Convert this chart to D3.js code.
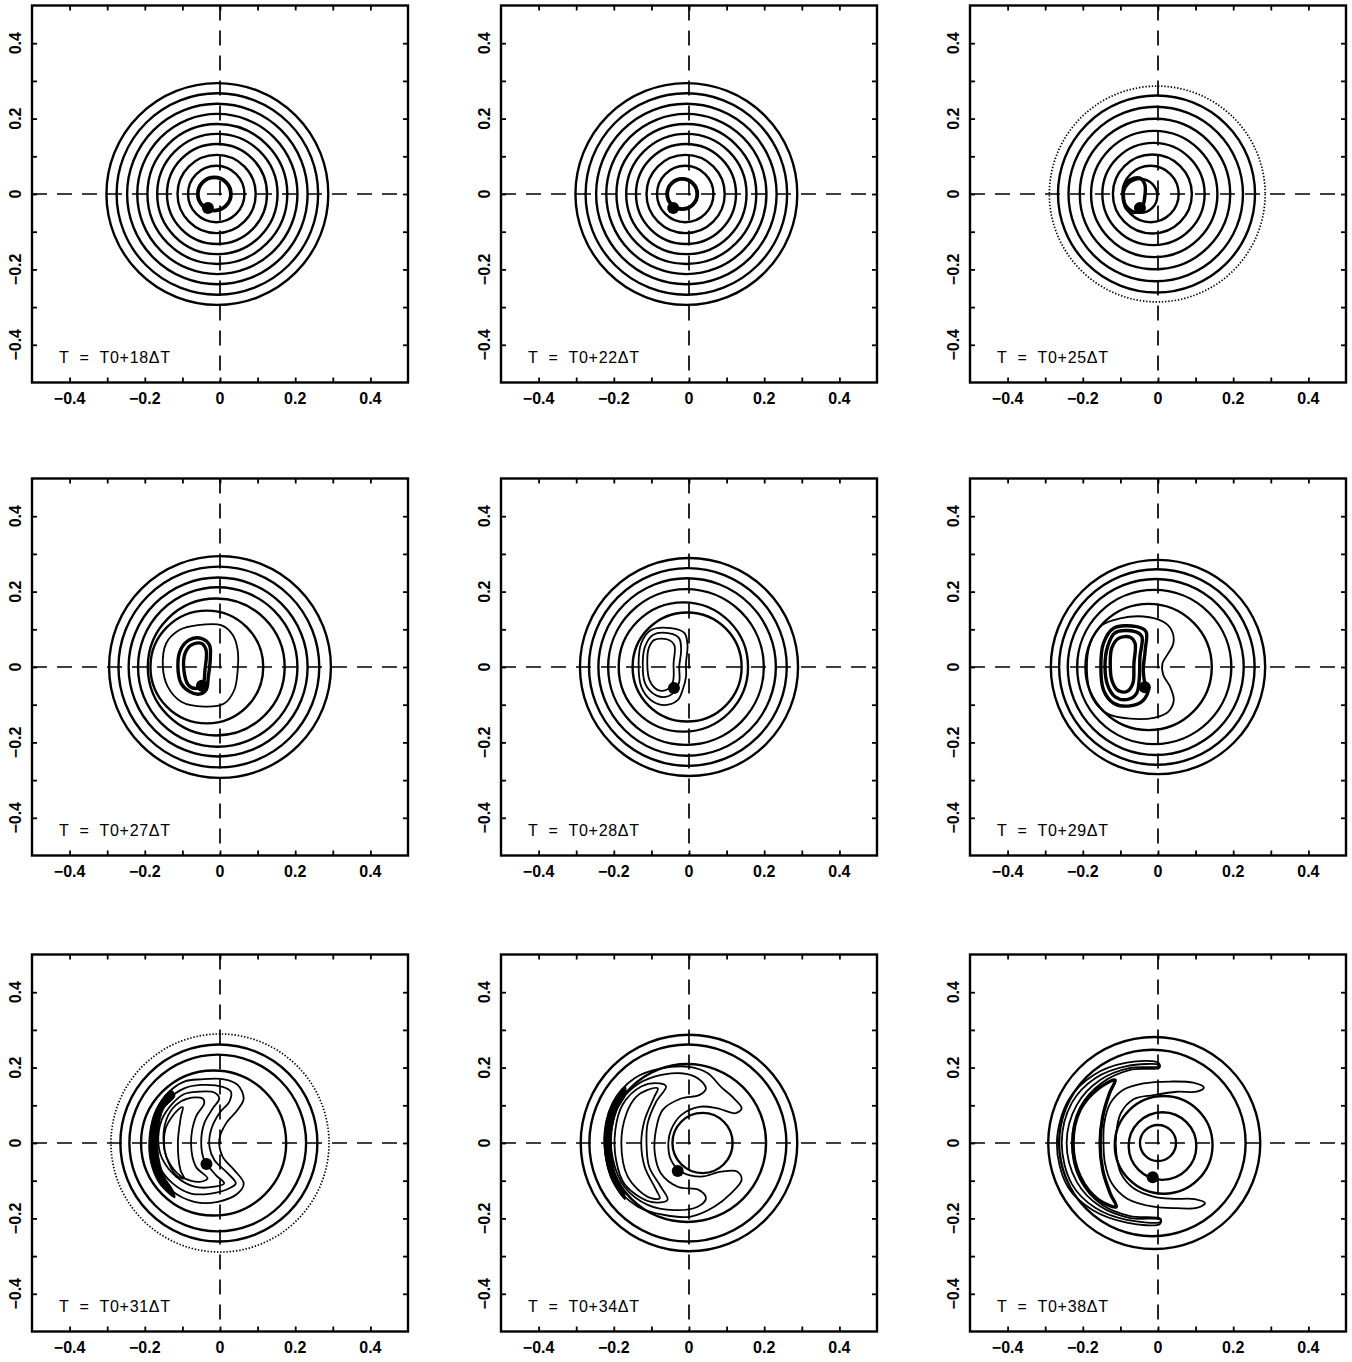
<!DOCTYPE html>
<html>
<head>
<meta charset="utf-8">
<script src="https://cdn.jsdelivr.net/npm/d3@7"></script>
<style>
  body { margin: 0; background: #fff; }
  svg { display: block; font-family: "Liberation Sans", Arial, sans-serif; }
  .tick-label { font-size: 16px; font-weight: bold; }
  .time-label { font-size: 16px; }
</style>
</head>
<body>
<div id="chart"></div>
<script>
// ---- data (all values in plot units) ----
const timeSteps = [18, 22, 25, 27, 28, 29, 31, 34, 38];
const axisTicks = [-0.4, -0.3, -0.2, -0.1, 0, 0.1, 0.2, 0.3, 0.4];
const labelTicks = [-0.4, -0.2, 0, 0.2, 0.4];

// rings: [cx, cy, r]
const rings18 = [[-0.007,0,0.295],[-0.007,0,0.268],[-0.007,0,0.240],[-0.007,0,0.213],[-0.007,0,0.186],[-0.007,0,0.160],[-0.008,0,0.133],[-0.009,0,0.104],[-0.010,0,0.075]];
const core18 = [[-0.015,0,0.044]];
const dot18 = [-0.032,-0.037];

const rings22 = [[-0.007,0,0.295],[-0.007,0,0.268],[-0.007,0,0.240],[-0.007,0,0.213],[-0.007,0,0.186],[-0.007,0,0.160],[-0.008,0,0.133],[-0.009,0,0.104],[-0.010,0,0.075]];
const core22 = [[-0.018,0,0.040]];
const dot22 = [-0.042,-0.037];

const dotted25 = [[-0.002,0,0.287]];
const rings25 = [[-0.004,0,0.262],[-0.006,0,0.232],[-0.008,0,0.200],[-0.010,0,0.168],[-0.012,0,0.136],[-0.015,0,0.105],[-0.020,0,0.075],[-0.047,-0.005,0.045]];
const thick25 = [[[-0.074,0.038],[-0.048,0.042],[-0.035,0.025],[-0.035,-0.006],[-0.043,-0.037],[-0.065,-0.049],[-0.085,-0.037],[-0.092,-0.002],[-0.088,0.025]]];
const dot25 = [-0.048,-0.037];

const rings27 = [[0,0,0.295],[-0.003,0,0.267],[-0.005,0,0.238],[-0.006,0,0.212],[-0.010,0,0.182],[-0.035,0,0.150]];
const lines27 = [[[-0.059,0.111],[0.003,0.111],[0.034,0.085],[0.047,0.045],[0.047,-0.008],[0.038,-0.061],[0.011,-0.097],[-0.042,-0.105],[-0.103,-0.092],[-0.139,-0.052],[-0.152,0.001],[-0.143,0.063],[-0.108,0.098]]];
const thick27 = [
  [[-0.081,0.072],[-0.050,0.076],[-0.028,0.058],[-0.026,0.019],[-0.031,-0.026],[-0.037,-0.061],[-0.055,-0.072],[-0.081,-0.065],[-0.103,-0.044],[-0.112,0.001],[-0.105,0.045]],
  [[-0.077,0.058],[-0.050,0.063],[-0.037,0.045],[-0.040,-0.008],[-0.046,-0.048],[-0.064,-0.057],[-0.084,-0.048],[-0.096,-0.008],[-0.093,0.036]]
];
const dot27 = [-0.048,-0.050];

const rings28 = [[0,0,0.290],[-0.003,0,0.263],[-0.005,0,0.236],[-0.008,0,0.207],[-0.015,0,0.172],[-0.005,0,0.145]];
const lines28 = [
  [[-0.101,0.098],[-0.048,0.103],[-0.012,0.090],[-0.004,0.058],[-0.008,0.010],[-0.008,-0.026],[-0.017,-0.061],[-0.030,-0.088],[-0.065,-0.101],[-0.101,-0.088],[-0.127,-0.052],[-0.134,0.010],[-0.127,0.063]],
  [[-0.096,0.085],[-0.052,0.089],[-0.026,0.076],[-0.021,0.045],[-0.026,0.001],[-0.026,-0.039],[-0.043,-0.070],[-0.070,-0.080],[-0.096,-0.070],[-0.117,-0.043],[-0.123,0.010],[-0.117,0.054]],
  [[-0.092,0.072],[-0.057,0.073],[-0.039,0.058],[-0.041,0.010],[-0.043,-0.039],[-0.061,-0.061],[-0.085,-0.060],[-0.105,-0.035],[-0.111,0.010],[-0.107,0.050]]
];
const dot28 = [-0.040,-0.056];

const rings29 = [[0,0,0.285],[-0.003,0,0.260],[-0.006,0,0.234],[-0.010,0,0.205],[-0.025,0,0.168]];
const lines29 = [[[-0.101,0.129],[-0.039,0.134],[0.014,0.120],[0.036,0.098],[0.041,0.063],[0.027,0.036],[0.012,0.010],[0.014,-0.021],[0.032,-0.052],[0.042,-0.088],[0.027,-0.119],[-0.008,-0.134],[-0.074,-0.137],[-0.136,-0.123],[-0.176,-0.079],[-0.189,-0.008],[-0.180,0.063],[-0.149,0.111]]];
const thick29 = [
  [[-0.118,0.103],[-0.057,0.107],[-0.032,0.094],[-0.034,0.045],[-0.039,-0.008],[-0.034,-0.044],[-0.025,-0.057],[-0.039,-0.088],[-0.074,-0.103],[-0.118,-0.096],[-0.145,-0.061],[-0.152,0.001],[-0.145,0.063]],
  [[-0.114,0.091],[-0.061,0.094],[-0.043,0.081],[-0.048,0.027],[-0.050,-0.034],[-0.057,-0.070],[-0.080,-0.086],[-0.114,-0.079],[-0.134,-0.048],[-0.141,0.001],[-0.134,0.054]],
  [[-0.105,0.076],[-0.074,0.079],[-0.061,0.063],[-0.064,0.010],[-0.067,-0.044],[-0.083,-0.065],[-0.108,-0.061],[-0.123,-0.034],[-0.127,0.010],[-0.123,0.050]]
];
const dot29 = [-0.035,-0.054];

const dotted31 = [[0,0,0.290]];
const rings31 = [[-0.003,0,0.262],[-0.006,0,0.235],[-0.017,0,0.193]];
const lines31 = [
  [[-0.050,0.169],[0.011,0.169],[0.047,0.154],[0.063,0.118],[0.047,0.088],[0.016,0.052],[-0.002,0.008],[0.007,-0.036],[0.038,-0.072],[0.063,-0.107],[0.047,-0.134],[-0.006,-0.156],[-0.068,-0.156],[-0.130,-0.125],[-0.170,-0.072],[-0.185,0],[-0.174,0.074],[-0.139,0.132],[-0.095,0.163]],
  [[-0.050,0.154],[0.007,0.149],[0.029,0.136],[0.025,0.110],[-0.002,0.079],[-0.024,0.034],[-0.028,-0.010],[-0.015,-0.045],[0.020,-0.080],[0.042,-0.107],[0.025,-0.120],[-0.024,-0.134],[-0.077,-0.134],[-0.126,-0.107],[-0.161,-0.063],[-0.174,0],[-0.165,0.065],[-0.134,0.118],[-0.095,0.145]],
  [[-0.059,0.136],[-0.015,0.134],[-0.002,0.118],[-0.019,0.092],[-0.042,0.052],[-0.050,0],[-0.042,-0.045],[-0.011,-0.085],[0.011,-0.107],[-0.015,-0.116],[-0.068,-0.116],[-0.117,-0.089],[-0.152,-0.045],[-0.164,0],[-0.155,0.061],[-0.126,0.105],[-0.095,0.130]],
  [[-0.086,0.118],[-0.046,0.118],[-0.042,0.105],[-0.064,0.070],[-0.077,0],[-0.064,-0.063],[-0.033,-0.094],[-0.055,-0.103],[-0.103,-0.089],[-0.139,-0.045],[-0.150,0],[-0.143,0.061],[-0.117,0.101]],
  [[-0.112,0.088],[-0.099,0.095],[-0.104,0.070],[-0.112,0],[-0.105,-0.072],[-0.095,-0.094],[-0.117,-0.085],[-0.143,-0.036],[-0.149,0],[-0.143,0.043]]
];
const band31 = [[-0.130,0.140],[-0.170,0.090],[-0.188,0.020],[-0.185,-0.050],[-0.160,-0.110],[-0.120,-0.145],[-0.125,-0.125],[-0.150,-0.085],[-0.165,-0.020],[-0.163,0.040],[-0.150,0.090],[-0.120,0.125]];
const dot31 = [-0.036,-0.056];

const rings34 = [[0,0,0.288],[-0.003,0,0.262],[-0.005,0,0.210],[0.036,0,0.080]];
const lines34 = [
  [[0.001,0.202],[0.050,0.185],[0.085,0.149],[0.120,0.118],[0.140,0.092],[0.124,0.079],[0.076,0.092],[0.027,0.096],[-0.021,0.074],[-0.048,0.034],[-0.055,0],[-0.048,-0.045],[-0.021,-0.076],[0.032,-0.089],[0.085,-0.076],[0.129,-0.076],[0.140,-0.098],[0.111,-0.134],[0.067,-0.169],[0.005,-0.195],[-0.065,-0.191],[-0.136,-0.169],[-0.198,-0.107],[-0.225,0],[-0.204,0.105],[-0.145,0.172],[-0.074,0.198]],
  [[-0.092,0.176],[-0.021,0.185],[0.023,0.172],[0.045,0.145],[0.027,0.127],[-0.021,0.118],[-0.070,0.088],[-0.088,0.034],[-0.091,-0.027],[-0.075,-0.080],[-0.030,-0.116],[0.027,-0.125],[0.045,-0.147],[0.023,-0.169],[-0.039,-0.178],[-0.110,-0.164],[-0.172,-0.116],[-0.202,-0.045],[-0.207,0.034],[-0.185,0.105],[-0.145,0.150]],
  [[-0.110,0.141],[-0.083,0.145],[-0.092,0.123],[-0.118,0.061],[-0.127,0],[-0.118,-0.063],[-0.087,-0.125],[-0.078,-0.147],[-0.110,-0.143],[-0.163,-0.089],[-0.180,0],[-0.166,0.079],[-0.140,0.123]],
  [[-0.127,0.150],[-0.078,0.158],[-0.061,0.150],[-0.087,0.110],[-0.110,0.052],[-0.113,0],[-0.106,-0.063],[-0.075,-0.116],[-0.057,-0.151],[-0.101,-0.156],[-0.170,-0.111],[-0.194,-0.045],[-0.196,0.034],[-0.177,0.101]]
];
const band34 = [[-0.170,0.150],[-0.205,0.100],[-0.225,0.030],[-0.222,-0.040],[-0.205,-0.100],[-0.170,-0.150],[-0.172,-0.130],[-0.195,-0.085],[-0.205,-0.030],[-0.205,0.030],[-0.192,0.085],[-0.168,0.130]];
const dot34 = [-0.030,-0.074];

const rings38 = [[-0.010,0,0.282],[-0.015,0,0.248],[0,0,0.048],[0.012,-0.008,0.090],[0.015,-0.005,0.130]];
const lines38 = [
  [[0.001,0.213],[-0.083,0.213],[-0.172,0.180],[-0.238,0.114],[-0.269,-0.001],[-0.240,-0.116],[-0.172,-0.179],[-0.083,-0.211],[0.005,-0.215],[0.007,-0.201],[-0.074,-0.194],[-0.149,-0.164],[-0.207,-0.098],[-0.229,-0.001],[-0.207,0.095],[-0.149,0.160],[-0.074,0.194],[0.004,0.200]],
  [[0.004,0.207],[-0.083,0.204],[-0.167,0.172],[-0.229,0.107],[-0.256,0],[-0.229,-0.109],[-0.167,-0.172],[-0.083,-0.204],[0.007,-0.209],[0.006,-0.203],[-0.074,-0.199],[-0.154,-0.168],[-0.216,-0.103],[-0.243,0],[-0.216,0.101],[-0.154,0.167],[-0.074,0.199],[0.004,0.203]],
  [[0.122,0.147],[0.094,0.160],[0.032,0.163],[-0.039,0.158],[-0.092,0.141],[-0.127,0.105],[-0.143,0.052],[-0.145,-0.001],[-0.141,-0.054],[-0.123,-0.107],[-0.083,-0.147],[-0.012,-0.169],[0.050,-0.173],[0.103,-0.172],[0.125,-0.160],[0.098,-0.149],[0.041,-0.148],[-0.012,-0.142],[-0.065,-0.120],[-0.099,-0.080],[-0.111,-0.027],[-0.111,0.026],[-0.099,0.079],[-0.065,0.116],[-0.012,0.127],[0.050,0.136],[0.103,0.136]]
];
const thick38 = [[[-0.114,0.167],[-0.158,0.145],[-0.207,0.088],[-0.226,-0.001],[-0.207,-0.089],[-0.158,-0.151],[-0.111,-0.169],[-0.127,-0.134],[-0.147,-0.072],[-0.154,-0.001],[-0.147,0.070],[-0.129,0.132]]];
const dot38 = [-0.014,-0.091];

// table of panels built from the arrays above
const panels = [
  {t: timeSteps[0], rings: rings18, dotted: [], lines: [], thick: [], thickRings: core18, band: null, dot: dot18},
  {t: timeSteps[1], rings: rings22, dotted: [], lines: [], thick: [], thickRings: core22, band: null, dot: dot22},
  {t: timeSteps[2], rings: rings25, dotted: dotted25, lines: [], thick: thick25, thickRings: [], band: null, dot: dot25},
  {t: timeSteps[3], rings: rings27, dotted: [], lines: lines27, thick: thick27, thickRings: [], band: null, dot: dot27},
  {t: timeSteps[4], rings: rings28, dotted: [], lines: lines28, thick: [], thickRings: [], band: null, dot: dot28},
  {t: timeSteps[5], rings: rings29, dotted: [], lines: lines29, thick: thick29, thickRings: [], band: null, dot: dot29},
  {t: timeSteps[6], rings: rings31, dotted: dotted31, lines: lines31, thick: [], thickRings: [], band: band31, dot: dot31},
  {t: timeSteps[7], rings: rings34, dotted: [], lines: lines34, thick: [], thickRings: [], band: band34, dot: dot34},
  {t: timeSteps[8], rings: rings38, dotted: [], lines: lines38, thick: thick38, thickRings: [], band: null, dot: dot38}
];

// ---- layout ----
const W = 1352, H = 1362;
const colLeft = [32, 501, 970];
const rowTop = [5.5, 478.5, 954.5];
const pw = 376, ph = 377;

const svg = d3.select("#chart").append("svg")
    .attr("width", W)
    .attr("height", H);

const x = d3.scaleLinear().domain([-0.5, 0.5]).range([0, pw]);
const y = d3.scaleLinear().domain([-0.5, 0.5]).range([ph, 0]);
const rad = r => x(r) - x(0);
const fmt = d => d === 0 ? "0" : d3.format(".1f")(d);

const closedLine = d3.line()
    .x(d => x(d[0]))
    .y(d => y(d[1]))
    .curve(d3.curveCatmullRomClosed.alpha(0.5));

panels.forEach(function (p, i) {
    let g = svg.append("g")
        .attr("transform", `translate(${colLeft[i % 3]}, ${rowTop[Math.floor(i / 3)]})`);

    // concentric / shifted rings
    g.selectAll(".ring").data(p.rings).enter().append("circle")
        .attr("class", "ring")
        .attr("cx", d => x(d[0])).attr("cy", d => y(d[1])).attr("r", d => rad(d[2]))
        .attr("fill", "none").attr("stroke", "#000").attr("stroke-width", 2.4);

    g.selectAll(".dotted").data(p.dotted).enter().append("circle")
        .attr("class", "dotted")
        .attr("cx", d => x(d[0])).attr("cy", d => y(d[1])).attr("r", d => rad(d[2]))
        .attr("fill", "none").attr("stroke", "#000").attr("stroke-width", 1.7)
        .attr("stroke-dasharray", "1.4,1.8");

    g.selectAll(".core").data(p.thickRings).enter().append("circle")
        .attr("class", "core")
        .attr("cx", d => x(d[0])).attr("cy", d => y(d[1])).attr("r", d => rad(d[2]))
        .attr("fill", "none").attr("stroke", "#000").attr("stroke-width", 3.8);

    // contour lines
    g.selectAll(".contour").data(p.lines).enter().append("path")
        .attr("class", "contour")
        .attr("d", closedLine)
        .attr("fill", "none").attr("stroke", "#000").attr("stroke-width", 1.8);

    g.selectAll(".thick").data(p.thick).enter().append("path")
        .attr("class", "thick")
        .attr("d", closedLine)
        .attr("fill", "none").attr("stroke", "#000").attr("stroke-width", 3.4);

    if (p.band) {
        g.append("path")
            .attr("d", closedLine(p.band))
            .attr("fill", "#000").attr("stroke", "#000").attr("stroke-width", 1);
    }

    // filled marker
    g.append("circle")
        .attr("cx", x(p.dot[0])).attr("cy", y(p.dot[1])).attr("r", 6)
        .attr("fill", "#000");

    // dashed cross hairs
    g.append("line")
        .attr("x1", x(-0.5)).attr("x2", x(0.5)).attr("y1", y(0)).attr("y2", y(0))
        .attr("stroke", "#000").attr("stroke-width", 1.7).attr("stroke-dasharray", "15,10");
    g.append("line")
        .attr("x1", x(0)).attr("x2", x(0)).attr("y1", y(0.5)).attr("y2", y(-0.5))
        .attr("stroke", "#000").attr("stroke-width", 1.7).attr("stroke-dasharray", "15,10");

    // inward ticks on all four sides
    let tickAxis = [
        [d3.axisBottom(x).tickSizeInner(-5), `translate(0,${ph})`],
        [d3.axisTop(x).tickSizeInner(-5), "translate(0,0)"],
        [d3.axisLeft(y).tickSizeInner(-5), "translate(0,0)"],
        [d3.axisRight(y).tickSizeInner(-5), `translate(${pw},0)`]
    ];
    tickAxis.forEach(function (a) {
        let ag = g.append("g")
            .attr("transform", a[1])
            .call(a[0].tickValues(axisTicks).tickSizeOuter(0).tickFormat(""));
        ag.select(".domain").remove();
        ag.selectAll("line").attr("stroke-width", 1.8);
    });

    // frame
    g.append("rect")
        .attr("width", pw).attr("height", ph)
        .attr("fill", "none").attr("stroke", "#000").attr("stroke-width", 2.4);

    // tick labels
    g.selectAll(".xlab").data(labelTicks).enter().append("text")
        .attr("class", "tick-label")
        .attr("x", d => x(d)).attr("y", ph + 21)
        .attr("text-anchor", "middle")
        .text(fmt);

    g.selectAll(".ylab").data(labelTicks).enter().append("text")
        .attr("class", "tick-label")
        .attr("transform", d => `translate(-11,${y(d)}) rotate(-90)`)
        .attr("text-anchor", "middle")
        .text(fmt);

    // time stamp
    g.append("text")
        .attr("class", "time-label")
        .attr("x", 27).attr("y", 357)
        .attr("style", "white-space:pre; letter-spacing:0.7px")
        .text(`T  =  T0+${p.t}\u0394T`);
});
</script>
</body>
</html>
